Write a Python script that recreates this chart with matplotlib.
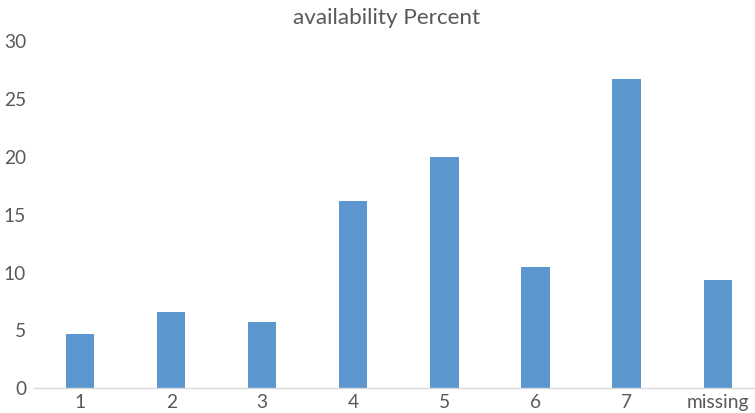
import matplotlib.pyplot as plt
import numpy as np

plt.rcParams['font.family'] = ['Lato', 'DejaVu Sans']

categories = ['1', '2', '3', '4', '5', '6', '7', 'missing']
percent = [4.7, 6.6, 5.7, 16.2, 20.0, 10.5, 26.7, 9.4]

fig = plt.figure(figsize=(7.55, 4.13), dpi=100)
ax = fig.add_axes([34.5 / 755, 1 - 388.3 / 413, (755 - 34.5) / 755, (388.3 - 41.3) / 413])

x = np.arange(len(categories))
ax.bar(x, percent, width=0.31, color='#5B97CE')

ax.set_xlim(-0.5, 7.41)
ax.set_ylim(0, 30)
ax.set_yticks(np.arange(0, 31, 5))
ax.set_xticks(x)
ax.set_xticklabels(categories)

for s in ['top', 'right', 'left']:
    ax.spines[s].set_visible(False)
ax.spines['bottom'].set_color('#d9d9d9')
ax.spines['bottom'].set_linewidth(1.0)
ax.tick_params(axis='both', length=0, labelsize=13.8, colors='#595959')
ax.tick_params(axis='y', pad=6)
ax.tick_params(axis='x', pad=4)

fig.text(387 / 755, 1 - 18 / 413, 'availability Percent', ha='center', va='center',
         fontsize=16.2, color='#595959')

fig.savefig('out.png', dpi=100)
